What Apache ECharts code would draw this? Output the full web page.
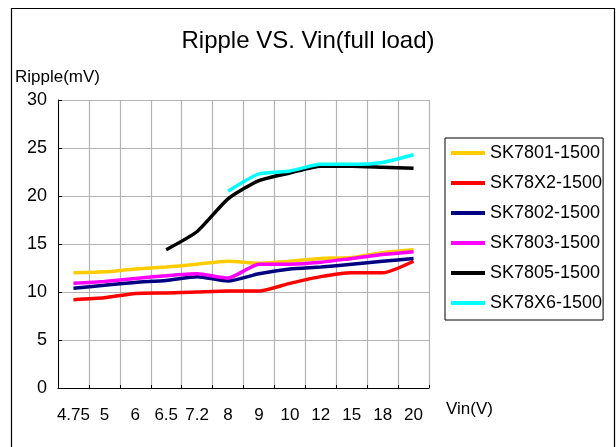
<!DOCTYPE html>
<html>
<head>
<meta charset="utf-8">
<title>Ripple VS. Vin</title>
<script src="https://cdn.jsdelivr.net/npm/echarts@6/dist/echarts.min.js"></script>
<style>
  html, body { margin: 0; padding: 0; background: #fff; }
  #chart { width: 616px; height: 447px; }
</style>
</head>
<body>
<div id="chart"></div>
<script>
// x categories (Vin)
const categories = ['4.75', '5', '6', '6.5', '7.2', '8', '9', '10', '12', '15', '18', '20']
const yTicks = [0, 5, 10, 15, 20, 25, 30]

// ripple values (mV), null = not measured
const sk7801 = [12.0, 12.1, 12.4, 12.6, 12.9, 13.2, 13.0, 13.2, 13.5, 13.6, 14.1, 14.4]
const sk78x2 = [9.2, 9.4, 9.85, 9.9, 10.0, 10.1, 10.1, 10.9, 11.6, 12.0, 12.0, 13.2]
const sk7802 = [10.4, 10.7, 11.0, 11.2, 11.6, 11.15, 11.9, 12.4, 12.6, 12.9, 13.2, 13.5]
const sk7803 = [10.9, 11.1, 11.4, 11.7, 11.9, 11.45, 12.9, 12.9, 13.1, 13.5, 13.9, 14.2]
const sk7805 = [null, null, null, 14.4, 16.3, 19.7, 21.6, 22.4, 23.1, 23.1, 23.0, 22.9]
const sk78x6 = [null, null, null, null, null, 20.5, 22.3, 22.6, 23.3, 23.3, 23.5, 24.3]

const seriesNames = ['SK7801-1500', 'SK78X2-1500', 'SK7802-1500', 'SK7803-1500', 'SK7805-1500', 'SK78X6-1500']
const seriesData = [sk7801, sk78x2, sk7802, sk7803, sk7805, sk78x6]
const colors = ['#FFCC00', '#FF0000', '#000080', '#FF00FF', '#000000', '#00FFFF']

const font = 'Liberation Sans, Arial, sans-serif'

const chart = echarts.init(document.getElementById('chart'), null, { renderer: 'canvas' })

chart.setOption({
  animation: false,
  backgroundColor: '#fff',
  textStyle: { fontFamily: font, color: '#000' },
  title: [
    {
      text: 'Ripple VS. Vin(full load)',
      left: 'center',
      top: 24,
      textStyle: { fontFamily: font, fontSize: 24, fontWeight: 'normal', color: '#000' }
    },
    {
      text: 'Ripple(mV)',
      left: 10,
      top: 64,
      textStyle: { fontFamily: font, fontSize: 17, fontWeight: 'normal', color: '#000' }
    },
    {
      text: 'Vin(V)',
      left: 441,
      top: 396,
      textStyle: { fontFamily: font, fontSize: 17, fontWeight: 'normal', color: '#000' }
    }
  ],
  // outer frame
  graphic: [
    {
      type: 'rect',
      silent: true,
      shape: { x: 11.5, y: 8.5, width: 603, height: 460 },
      style: { fill: null, stroke: '#000', lineWidth: 1.2 }
    }
  ],
  grid: {
    left: 58,
    right: 187,
    top: 100,
    bottom: 59,
    containLabel: false,
    outerBoundsMode: 'none'
  },
  legend: {
    orient: 'vertical',
    left: 445,
    top: 138,
    padding: [6, 1, 8, 6],
    borderColor: '#000',
    borderWidth: 1,
    itemWidth: 34,
    itemHeight: 4,
    itemGap: 12,
    icon: 'rect',
    data: seriesNames,
    textStyle: { fontFamily: font, fontSize: 18, lineHeight: 18, color: '#000' }
  },
  xAxis: {
    type: 'category',
    data: categories,
    boundaryGap: true,
    axisLine: { lineStyle: { color: '#000', width: 1 } },
    axisTick: { show: true, inside: true, length: 3, lineStyle: { color: '#000' } },
    axisLabel: { fontFamily: font, fontSize: 17, color: '#000', margin: 19, interval: 0 },
    splitLine: { show: true, lineStyle: { color: '#b4b4b4', width: 1.2 } }
  },
  yAxis: {
    type: 'value',
    min: yTicks[0],
    max: yTicks[yTicks.length - 1],
    interval: 5,
    axisLine: { show: true, lineStyle: { color: '#000', width: 1 } },
    axisTick: { show: true, inside: true, length: 4, lineStyle: { color: '#000' } },
    axisLabel: { fontFamily: font, fontSize: 18, color: '#000', margin: 11 },
    splitLine: { show: true, lineStyle: { color: '#b4b4b4', width: 1.2 } }
  },
  series: seriesNames.map((name, i) => ({
    name: name,
    type: 'line',
    data: seriesData[i],
    smooth: 0.2,
    symbol: 'none',
    connectNulls: false,
    lineStyle: { color: colors[i], width: 3.5 },
    itemStyle: { color: colors[i] }
  }))
})
</script>
</body>
</html>
